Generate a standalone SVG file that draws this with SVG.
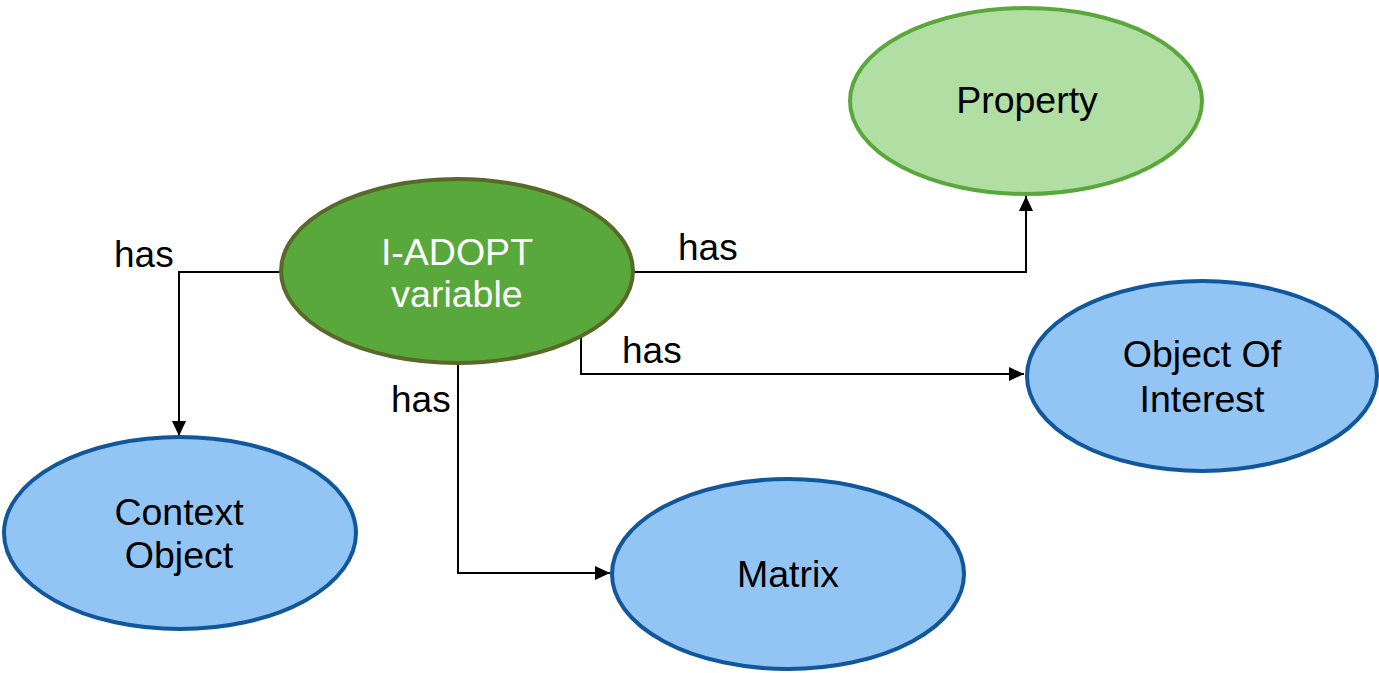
<svg xmlns="http://www.w3.org/2000/svg" width="1379" height="673" viewBox="0 0 1379 673">
  <style>
    .lbl { font-family: "Liberation Sans", Arial, sans-serif; font-size: 37px; fill: #000; }
    .node-text { font-family: "Liberation Sans", Arial, sans-serif; font-size: 37.5px; text-anchor: middle; fill: #000; }
    .light { fill: #fff; }
    .main { fill: #58a83c; stroke: #59692a; stroke-width: 4; }
    .prop { fill: #b1dea3; stroke: #5aa83b; stroke-width: 4; }
    .obj { fill: #92c5f4; stroke: #11579b; stroke-width: 4; }
    .edge { fill: none; stroke: #000; stroke-width: 2; }
  </style>
  <defs>
    <marker id="arrow" markerUnits="userSpaceOnUse" markerWidth="16" markerHeight="14" refX="15" refY="7" orient="auto">
      <path d="M0,0 L15,7 L0,14 z" fill="#000"/>
    </marker>
  </defs>
  <rect width="1379" height="673" fill="#fff"/>

  <!-- connectors and their labels -->
  <g id="connectors">
    <path class="edge" d="M281,272 H179 V436" marker-end="url(#arrow)"/>
    <path class="edge" d="M634,272 H1026 V196" marker-end="url(#arrow)"/>
    <path class="edge" d="M581,338 V374 H1024" marker-end="url(#arrow)"/>
    <path class="edge" d="M458,364 V573 H610" marker-end="url(#arrow)"/>
    <text class="lbl" x="114" y="267">has</text>
    <text class="lbl" x="678" y="260">has</text>
    <text class="lbl" x="622" y="363">has</text>
    <text class="lbl" x="391" y="412">has</text>
  </g>

  <g id="variable">
    <ellipse class="main" cx="457" cy="271" rx="176" ry="92"/>
    <text class="node-text light" x="457" y="265">I-ADOPT</text>
    <text class="node-text light" x="457" y="307">variable</text>
  </g>

  <g id="property">
    <ellipse class="prop" cx="1026" cy="101" rx="176" ry="93"/>
    <text class="node-text" x="1027" y="113">Property</text>
  </g>

  <g id="object-of-interest">
    <ellipse class="obj" cx="1202" cy="376" rx="175" ry="95"/>
    <text class="node-text" x="1202" y="367">Object Of</text>
    <text class="node-text" x="1202" y="412">Interest</text>
  </g>

  <g id="context-object">
    <ellipse class="obj" cx="180" cy="533" rx="176" ry="96"/>
    <text class="node-text" x="179" y="525">Context</text>
    <text class="node-text" x="179" y="568">Object</text>
  </g>

  <g id="matrix">
    <ellipse class="obj" cx="788" cy="574" rx="176" ry="95"/>
    <text class="node-text" x="788" y="587">Matrix</text>
  </g>
</svg>
